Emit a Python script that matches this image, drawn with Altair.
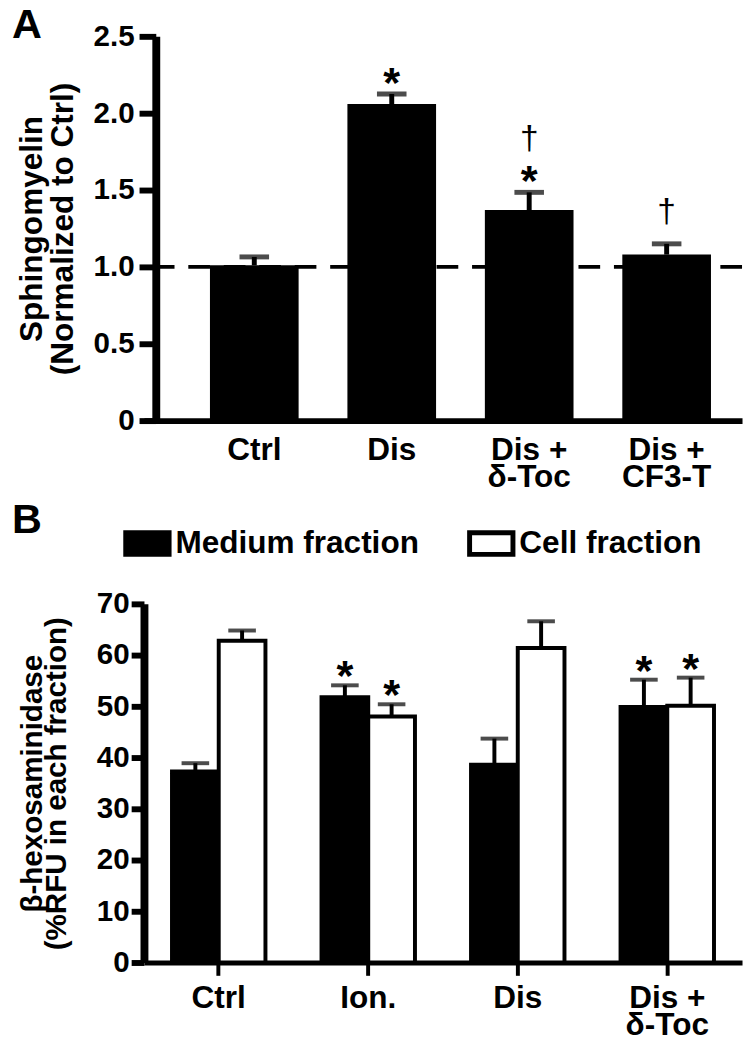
import altair as alt
import pandas as pd

FONT = "Liberation Sans"

# ---------------- Panel A data ----------------
a_groups = ["Ctrl", "Dis", "Dis +\nδ-Toc", "Dis +\nCF3-T"]
a_mean = [1.01, 2.06, 1.37, 1.08]
a_sem = [0.055, 0.065, 0.115, 0.07]
a_star = ["", "*", "*", ""]
a_dagger = ["", "", "†", "†"]
a_ticks = [0, 0.5, 1.0, 1.5, 2.0, 2.5]
a_ref = [1.0]

# ---------------- Panel B data ----------------
b_groups = ["Ctrl", "Ion.", "Dis", "Dis +\nδ-Toc"]
b_fractions = ["Medium fraction", "Cell fraction"]
b_medium = [37.3, 51.8, 38.6, 49.9]
b_medium_sem = [1.6, 2.3, 5.1, 5.3]
b_cell = [62.8, 48.0, 61.4, 50.1]
b_cell_sem = [2.0, 2.4, 5.2, 5.5]
b_medium_star = ["", "*", "", "*"]
b_cell_star = ["", "*", "", "*"]
b_ticks = [0, 10, 20, 30, 40, 50, 60, 70]

dfA = pd.DataFrame({"group": a_groups, "mean": a_mean, "sem": a_sem,
                    "star": a_star, "dagger": a_dagger})
dfA["upper"] = dfA["mean"] + dfA["sem"]
dfA["has_star"] = dfA["star"] != ""

rows = []
for i, g in enumerate(b_groups):
    rows.append({"group": g, "fraction": b_fractions[0], "mean": b_medium[i],
                 "sem": b_medium_sem[i], "star": b_medium_star[i]})
    rows.append({"group": g, "fraction": b_fractions[1], "mean": b_cell[i],
                 "sem": b_cell_sem[i], "star": b_cell_star[i]})
dfB = pd.DataFrame(rows)
dfB["upper"] = dfB["mean"] + dfB["sem"]

W = 607

# ---------------- Panel A ----------------
xA = alt.X("group:N", sort=a_groups, title=None,
           scale=alt.Scale(paddingInner=0.355, paddingOuter=0.353, align=0.68),
           axis=alt.Axis(labelExpr="split(datum.label, '\\n')", labelAngle=0,
                         ticks=False, domainWidth=6, labelFontSize=32,
                         labelPadding=14, labelLineHeight=28))
yA_scale = alt.Scale(domain=[0, 2.5], nice=False, zero=True)
yA_axis = alt.Axis(values=a_ticks,
                   labelExpr="datum.value == 0 ? '0' : format(datum.value, '.1f')",
                   title=["Sphingomyelin", "(Normalized to Ctrl)"],
                   offset=-12, tickSize=17, tickWidth=6, domainWidth=8,
                   labelFontSize=30, labelPadding=5, titleFontSize=32,
                   titlePadding=14, titleLineHeight=31)


def yA(field):
    return alt.Y(field, scale=yA_scale, axis=yA_axis)


baseA = alt.Chart(dfA)
refA = alt.Chart(pd.DataFrame({"ref": a_ref})).mark_rule(
    strokeDash=[22, 14], strokeWidth=4, color="black"
).encode(y=yA("ref:Q"))
barsA = baseA.mark_bar(color="black").encode(x=xA, y=yA("mean:Q"))
errA = baseA.mark_rule(strokeWidth=5, color="black").encode(
    x=xA, y=yA("mean:Q"), y2="upper:Q")
capA = baseA.mark_tick(thickness=5, size=30, color="black").encode(
    x=xA, y=yA("upper:Q"))
starA = baseA.mark_text(fontSize=44, fontWeight="bold", baseline="alphabetic",
                        dy=3, color="black").encode(
    x=xA, y=yA("upper:Q"), text="star:N")
dagA1 = baseA.transform_filter("datum.has_star && datum.dagger != ''").mark_text(
    fontSize=34, baseline="alphabetic", dy=-44, color="black").encode(
    x=xA, y=yA("upper:Q"), text="dagger:N")
dagA2 = baseA.transform_filter("!datum.has_star && datum.dagger != ''").mark_text(
    fontSize=34, baseline="alphabetic", dy=-22, color="black").encode(
    x=xA, y=yA("upper:Q"), text="dagger:N")
letterA = alt.Chart(pd.DataFrame({"panel": ["A"]})).mark_text(
    fontSize=42, fontWeight="bold", baseline="top", align="left",
    color="black").encode(x=alt.value(-134), y=alt.value(-31), text="panel:N")

chartA = alt.layer(refA, barsA, errA, capA, starA, dagA1, dagA2, letterA).properties(
    width=W, height=390)

# ---------------- Panel B ----------------
xB = alt.X("group:N", sort=b_groups, title=None,
           scale=alt.Scale(paddingInner=0.375, paddingOuter=0.1875),
           axis=alt.Axis(labelExpr="split(datum.label, '\\n')", labelAngle=0,
                         tickSize=13, tickWidth=4, domainWidth=5, labelFontSize=32,
                         labelPadding=8, labelLineHeight=27))
xoB = alt.XOffset("fraction:N", sort=b_fractions)
yB_scale = alt.Scale(domain=[0, 70], nice=False)
yB_axis = alt.Axis(values=b_ticks, title=["β-hexosaminidase", "(%RFU in each fraction)"],
                   tickSize=13, tickWidth=6, domainWidth=8, labelFontSize=30,
                   labelPadding=2, titleFontSize=30, titlePadding=25,
                   titleLineHeight=25)


def yB(field):
    return alt.Y(field, scale=yB_scale, axis=yB_axis)


baseB = alt.Chart(dfB)
barsB = baseB.mark_bar(stroke="black", strokeWidth=4).encode(
    x=xB, xOffset=xoB, y=yB("mean:Q"),
    fill=alt.Fill("fraction:N", sort=b_fractions,
                  scale=alt.Scale(domain=b_fractions, range=["black", "white"]),
                  legend=alt.Legend(title=None, orient="none", legendX=-21, legendY=-86,
                                    direction="horizontal", columns=2, columnPadding=40,
                                    symbolType="M-1,-0.5H1V0.5H-1Z", symbolSize=1936,
                                    symbolStrokeWidth=5, symbolStrokeColor="black",
                                    labelFontSize=32, labelFont=FONT,
                                    labelFontWeight="bold", labelOffset=4,
                                    labelColor="black", labelLimit=400)),
    stroke=alt.value("black"))
errB = baseB.mark_rule(strokeWidth=4, color="black").encode(
    x=xB, xOffset=xoB, y=yB("mean:Q"), y2="upper:Q")
capB = baseB.mark_tick(thickness=4, size=28, color="black").encode(
    x=xB, xOffset=xoB, y=yB("upper:Q"))
starB = baseB.mark_text(fontSize=44, fontWeight="bold", baseline="alphabetic",
                        dy=5, color="black").encode(
    x=xB, xOffset=xoB, y=yB("upper:Q"), text="star:N")
letterB = alt.Chart(pd.DataFrame({"panel": ["B"]})).mark_text(
    fontSize=42, fontWeight="bold", baseline="top", align="left",
    color="black").encode(x=alt.value(-134), y=alt.value(-105), text="panel:N")

chartB = alt.layer(barsB, errB, capB, starB, letterB).properties(width=W, height=364)

chart = alt.vconcat(chartA, chartB, spacing=7).resolve_legend(
    fill="independent").resolve_scale(y="independent", x="independent").properties(
    padding={"left": 4, "top": -11, "right": 0, "bottom": 0}
).configure_view(stroke=None).configure_axis(
    labelFont=FONT, titleFont=FONT, labelFontWeight="bold", titleFontWeight="bold",
    labelColor="black", titleColor="black", domainColor="black", tickColor="black",
    grid=False
).configure_text(font=FONT)

chart.save("out.html", embed_options={"renderer": "svg", "actions": False})
